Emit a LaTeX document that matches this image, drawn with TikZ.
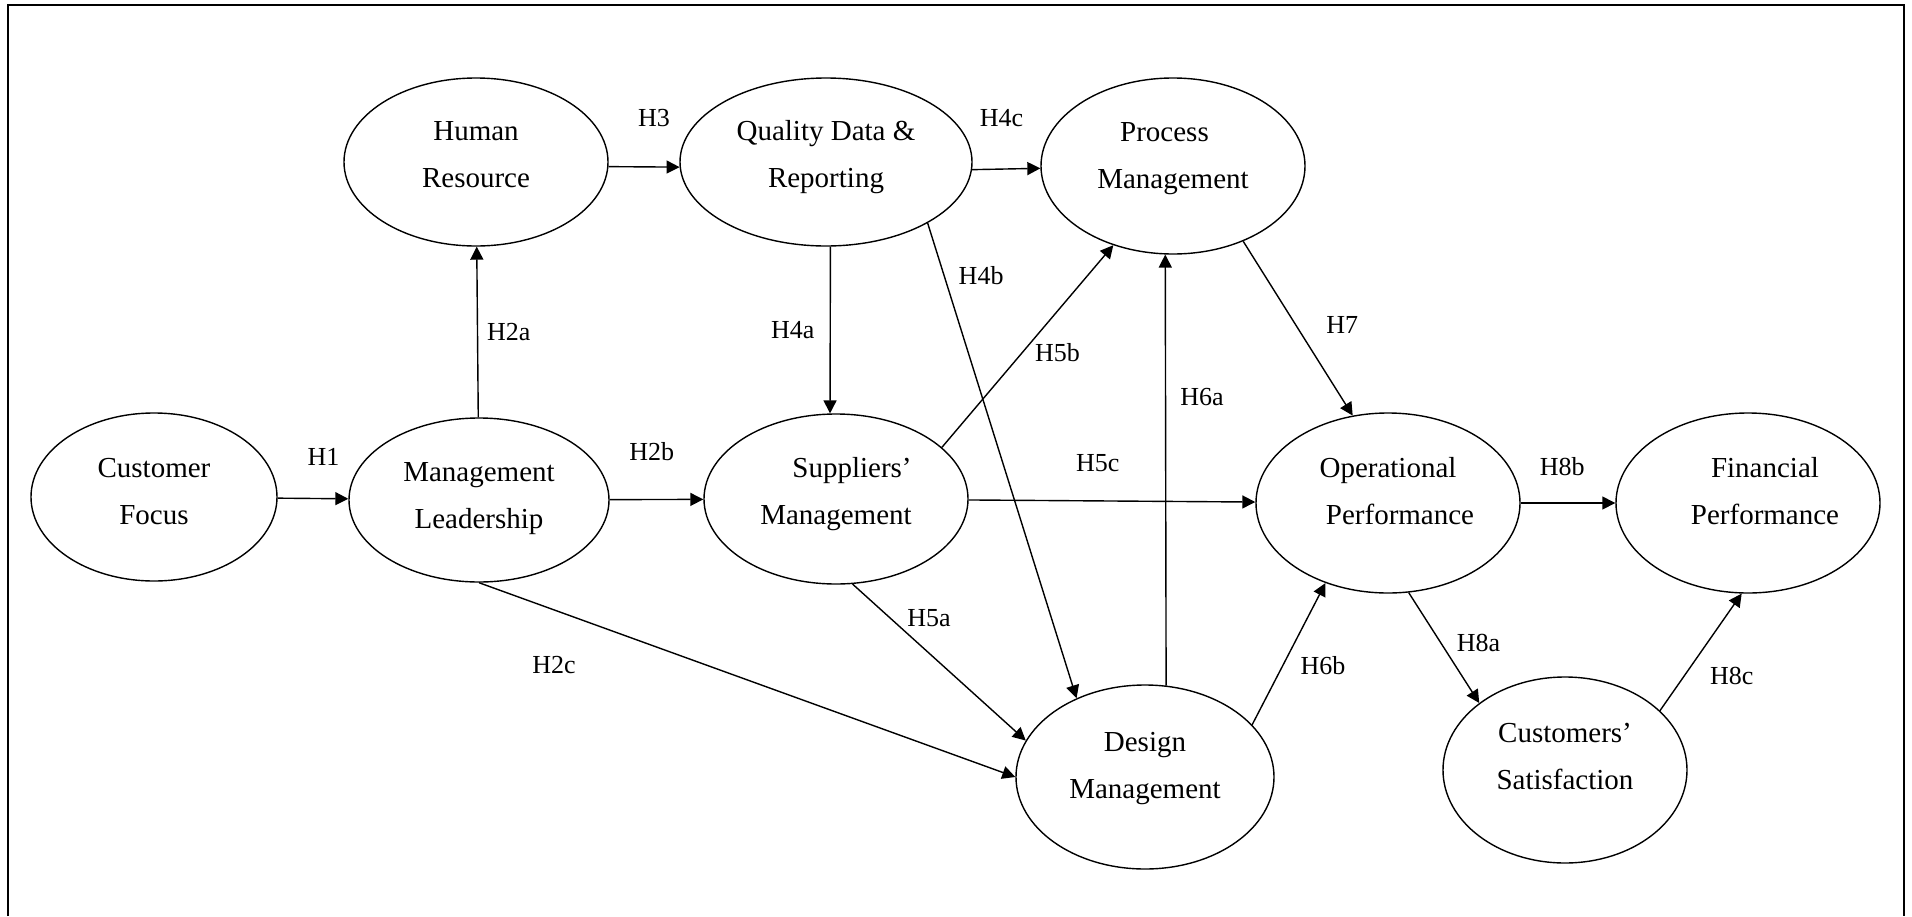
\documentclass[tikz,border=0pt]{standalone}
\usepackage{fontspec}
\setmainfont{Liberation Serif}
\usetikzlibrary{shapes,arrows.meta}
\tikzstyle{el} = [ellipse, draw=black, line width=0.7pt, inner sep=0pt, align=center, font=\fontsize{14.5}{23.5}\selectfont]
\tikzstyle{hyp} = [inner sep=0pt, font=\fontsize{13}{15}\selectfont]

\begin{document}
\begin{tikzpicture}[x=0.5pt, y=-0.5pt, line width=0.7pt, >={Triangle[length=6.5pt,width=6.5pt]}]
		\useasboundingbox (0,0) rectangle (1912,916);
		\draw[line width=0.85pt] (8,916) -- (8,5) -- (1904,5) -- (1904,916);

		\node[el, minimum width=132pt, minimum height=84pt, text depth=7.3pt](hr) at (476,162){Human\\Resource};
		\node[el, minimum width=146pt, minimum height=84pt, text depth=8.1pt](qdr) at (826,162){Quality Data \&\\Reporting};
		\node[el, minimum width=132pt, minimum height=88pt, text depth=10.5pt](pm) at (1173,166){Process\hspace*{8.5pt}\\Management};
		\node[el, minimum width=123pt, minimum height=84pt, text depth=6pt](cf) at (154,497){Customer\\Focus};
		\node[el, minimum width=130pt, minimum height=82pt, text depth=5pt](ml) at (479,500){Management\\Leadership};
		\node[el, minimum width=132pt, minimum height=85pt, text depth=8pt](sm) at (836,499){\hspace*{16pt}Suppliers'\\Management};
		\node[el, minimum width=129pt, minimum height=92pt, text depth=11.8pt](dm) at (1145,777){Design\\Management};
		\node[el, minimum width=132pt, minimum height=90pt, text depth=12.2pt](op) at (1388,503){Operational\\\hspace*{12pt}Performance};
		\node[el, minimum width=132pt, minimum height=90pt, text depth=12.2pt](fp) at (1748,503){\hspace*{17pt}Financial\\\hspace*{17pt}Performance};
		\node[el, minimum width=122pt, minimum height=93pt, text depth=13.4pt](cs) at (1565,770){Customers'\\Satisfaction};

		\draw[->](cf)--node[hyp, pos=0.65, above=16pt]{H1}(ml);
		\draw[->](ml)--node[hyp, pos=0.45, above=19pt]{H2b}(sm);
		\draw[->](ml)--node[hyp, right=4.5pt]{H2a}(hr);
		\draw[->](ml.south)--node[hyp, pos=0.14, below=23pt]{H2c}(dm.west);
		\draw[->](hr.-2)--node[hyp, pos=0.64, above=19.5pt]{H3}(qdr.182);
		\draw[->](qdr.-3)--node[hyp, pos=0.43, above=21pt]{H4c}(pm.181.5);
		\draw[->](qdr.-87.3)--node[hyp, left=7.5pt]{H4a}(sm.94);
		\draw[->](qdr.-31)--node[hyp, pos=0.11, right=7pt]{H4b}(dm.131);
		\draw[->](sm.26)--node[hyp, pos=0.47, right=6pt]{H5b}(pm.-127);
		\draw[->](sm)--node[hyp, pos=0.45, above=14pt]{H5c}(op);
		\draw[->](sm.-79)--node[hyp, pos=0.22, right=8pt]{H5a}(dm.163);
		\draw[->](dm.77)--node[hyp, pos=0.67, right=7pt]{H6a}(pm.-95);
		\draw[->](dm.26)--node[hyp, pos=0.42, right=8.5pt]{H6b}(op.-128);
		\draw[->](pm.-47)--node[hyp, pos=0.48, right=15pt]{H7}(op.112);
		\draw[->](op)--node[hyp, pos=0.44, above=13.5pt]{H8b}(fp);
		\draw[->](op.-77)--node[hyp, pos=0.46, right=7.5pt]{H8a}(cs.142);
		\draw[->](cs.32)--node[hyp, pos=0.3, right=12.5pt]{H8c}(fp.-94);
	\end{tikzpicture}
\end{document}
